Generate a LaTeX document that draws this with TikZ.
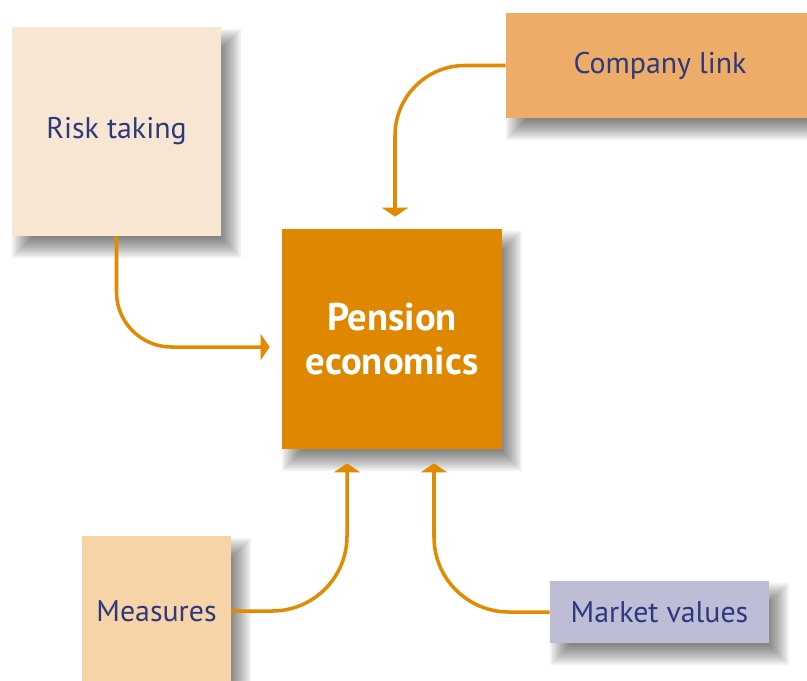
\documentclass[tikz,border=0pt]{standalone}
\usepackage{fontspec}
\setmainfont{PT Sans}
\usetikzlibrary{positioning}
\usetikzlibrary{arrows.meta}
\definecolor{riskfill}{HTML}{F9E6D2}
\definecolor{companyfill}{HTML}{EDAC67}
\definecolor{centrefill}{HTML}{E08700}
\definecolor{measuresfill}{HTML}{F7D3A8}
\definecolor{marketfill}{HTML}{BDBDD6}
\definecolor{linkline}{HTML}{E38A00}
\definecolor{labeltext}{HTML}{2B3A7E}
\pgfdeclarelayer{paper}
\pgfdeclarelayer{shadow}
\pgfsetlayers{paper,shadow,main}
\tikzset{topicbox/.style={rectangle,draw=none,inner sep=0pt,
text=labeltext,font=\fontsize{17}{20}\selectfont}}
\tikzset{centrebox/.style={rectangle,draw=none,fill=centrefill,inner sep=0pt,
text=white,align=center,font=\fontsize{22}{24.5}\selectfont\bfseries,
minimum width=4.4cm,minimum height=4.4cm}}
\tikzset{shadowstep/.style={fill=black,opacity=0.055,draw=none}}
\tikzset{linkarrow/.style={draw=linkline,line width=2pt,
-{Triangle[width=0.52cm,length=0.18cm]}}}

\begin{document}
\begin{tikzpicture}[x=0.02cm,y=-0.02cm]

    \clip (0,0) rectangle (807,680);
    \begin{pgfonlayer}{paper}
        \fill[white] (0,0) rectangle (807,680);
    \end{pgfonlayer}

    \node[centrebox] (boxCentre) at (392,339) {Pension\\economics};

    \node[topicbox,fill=riskfill,minimum width=4.18cm,minimum height=4.18cm]
        (boxRisk) at (116.5,131.5) {Risk taking};
    \node[topicbox,fill=companyfill,minimum width=6.16cm,minimum height=2.1cm]
        (boxCompany) at (660,65.5) {Company link};
    \node[topicbox,fill=measuresfill,minimum width=2.98cm,minimum height=3cm]
        (boxMeasures) at (156.5,611) {Measures};
    \node[topicbox,fill=marketfill,minimum width=4.38cm,minimum height=1.24cm]
        (boxMarket) at (659.5,612) {Market values};

    % soft drop shadows, stacked see-through rectangles
    \begin{pgfonlayer}{shadow}
        \foreach \b in {boxCentre,boxRisk,boxCompany,boxMeasures,boxMarket}
            \foreach \d in {10,8,...,-10}
                \fill[shadowstep] ([shift={(10-\d,12-\d)}]\b.north west)
                    rectangle ([shift={(10+\d,12+\d)}]\b.south east);
    \end{pgfonlayer}

    % links into the centre box
    \draw[linkarrow,rounded corners=1.1cm,shorten >=0.24cm]
        (boxRisk.south) |- ([yshift=-0.16cm]boxCentre.west);
    \draw[linkarrow,rounded corners=1.4cm,shorten >=0.24cm]
        (boxCompany.west) -| ([xshift=0.06cm]boxCentre.north);
    \draw[linkarrow,rounded corners=1.5cm,shorten >=0.28cm]
        (boxMeasures.east) -| ([xshift=-0.9cm]boxCentre.south);
    \draw[linkarrow,rounded corners=1.5cm,shorten >=0.28cm]
        (boxMarket.west) -| ([xshift=0.84cm]boxCentre.south);

\end{tikzpicture}
\end{document}
